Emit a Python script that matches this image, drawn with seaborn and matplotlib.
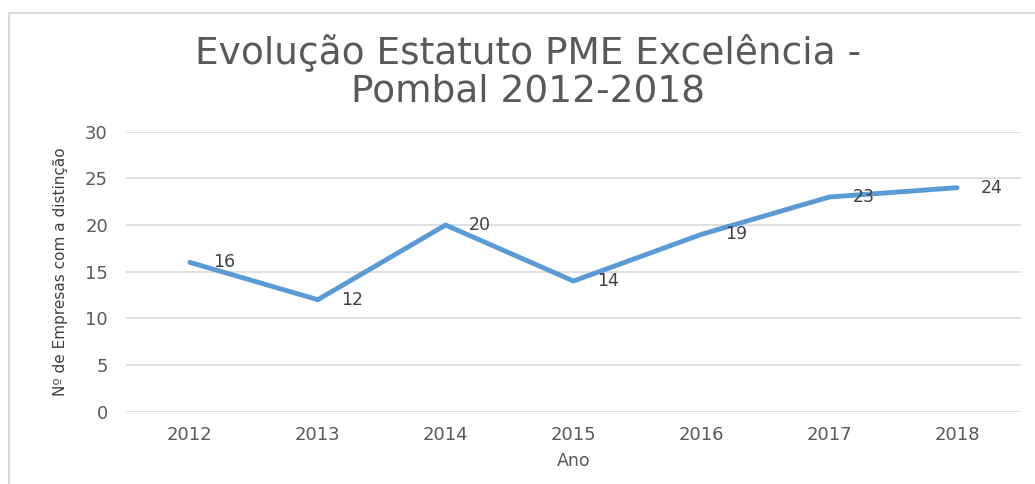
import seaborn as sns
import matplotlib.pyplot as plt
import matplotlib.patches as patches
import pandas as pd

# data
anos = ["2012", "2013", "2014", "2015", "2016", "2017", "2018"]
empresas = [16, 12, 20, 14, 19, 23, 24]

df = pd.DataFrame({"Ano": anos, "Empresas": empresas})

sns.set_style("white")
plt.rcParams["font.family"] = ["DejaVu Sans"]

grey = "#595959"
fig = plt.figure(figsize=(10.35, 4.84), dpi=100)
ax = fig.add_axes([0.1217, 0.1494, 0.8648, 0.5785])

# chart border (right/bottom edges fall outside the picture)
fig.patches.append(patches.Rectangle((9 / 1035, -0.1), 1.2, 1 - 13 / 484 + 0.1,
                                     transform=fig.transFigure, fill=False,
                                     edgecolor="#D9D9D9", linewidth=1.5))

sns.lineplot(data=df, x="Ano", y="Empresas", ax=ax, color="#5B9BD5",
             linewidth=3.5, sort=False)

for i, v in enumerate(empresas):
    ax.annotate(str(v), (i, v), xytext=(17, 0), textcoords="offset points",
                ha="left", va="center", fontsize=12.5, color="#404040")

ax.set_xlim(-0.5, 6.5)
ax.set_ylim(0, 30)
ax.set_yticks(range(0, 31, 5))
ax.grid(axis="y", color="#D9D9D9", linewidth=1.2)
ax.grid(axis="x", visible=False)
for s in ax.spines.values():
    s.set_visible(False)
ax.tick_params(axis="both", length=0, labelsize=13, labelcolor=grey)
ax.tick_params(axis="y", pad=13)
ax.tick_params(axis="x", pad=10)

ax.set_xlabel("Ano", fontsize=12.5, color=grey, labelpad=6)
ax.set_ylabel("Nº de Empresas com a distinção", fontsize=11, color="#404040",
              labelpad=12)

fig.text(0.51, 0.853, "Evolução Estatuto PME Excelência -\nPombal 2012-2018",
         ha="center", va="center", fontsize=27, color=grey,
         linespacing=1.08)

fig.savefig("out.png", dpi=100)
